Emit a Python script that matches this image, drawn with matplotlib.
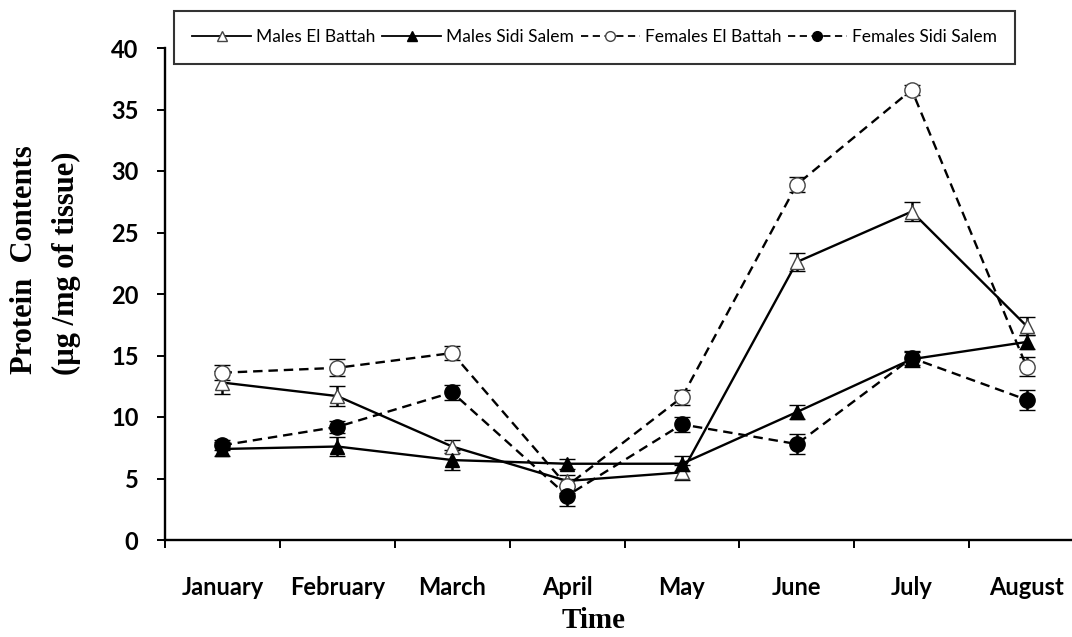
import matplotlib
matplotlib.use("Agg")
import matplotlib.pyplot as plt
from matplotlib.lines import Line2D
import numpy as np

# protein contents per month (ug/mg of tissue)
months = ["January", "February", "March", "April", "May", "June", "July", "August"]
males_el_battah = [12.8, 11.7, 7.6, 4.8, 5.5, 22.6, 26.7, 17.4]
males_sidi_salem = [7.4, 7.6, 6.5, 6.2, 6.2, 10.4, 14.7, 16.1]
females_el_battah = [13.6, 14.0, 15.2, 4.4, 11.6, 28.9, 36.6, 14.1]
females_sidi_salem = [7.7, 9.2, 12.0, 3.6, 9.4, 7.8, 14.8, 11.4]

err_males_el_battah = [0.9, 0.8, 0.5, 0.5, 0.6, 0.7, 0.8, 0.7]
err_males_sidi_salem = [0.6, 0.8, 0.8, 0.4, 0.6, 0.6, 0.6, 0.6]
err_females_el_battah = [0.6, 0.7, 0.6, 0.6, 0.6, 0.6, 0.4, 0.8]
err_females_sidi_salem = [0.4, 0.5, 0.6, 0.8, 0.6, 0.8, 0.6, 0.8]

labels = ["Males El Battah", "Males Sidi Salem", "Females El Battah", "Females Sidi Salem"]

sans = ["Lato", "DejaVu Sans"]
serif = ["Liberation Serif", "DejaVu Serif"]

fig = plt.figure(figsize=(10.72, 6.37), dpi=100)
ax = fig.add_axes([165 / 1072, 1 - 540 / 637, 919 / 1072, 492 / 637])

x = np.arange(1, len(months) + 1)
dash = (0, (4, 2.5))

series = [
    (males_el_battah, err_males_el_battah, "-", "^", "white"),
    (males_sidi_salem, err_males_sidi_salem, "-", "^", "black"),
    (females_el_battah, err_females_el_battah, dash, "o", "white"),
    (females_sidi_salem, err_females_sidi_salem, dash, "o", "black"),
]

handles = []
for (vals, errs, ls, mk, fc), lab in zip(series, labels):
    ms = 10 if mk == "^" else 11
    ec = "#444444" if fc == "white" else "black"
    ax.errorbar(x, vals, yerr=errs, color="black", ls=ls, lw=1.7,
                marker=mk, ms=ms, mfc=fc, mec=ec, mew=1.0,
                ecolor="black", elinewidth=1.8, capsize=6, capthick=2.6)
    handles.append(Line2D([], [], color="black", ls=ls, lw=1.3, marker=mk,
                          ms=7, mfc=fc, mec=ec, mew=1.0))

ax.set_xlim(0.5, 8.5)
ax.set_ylim(0, 40)
ax.set_yticks(range(0, 41, 5))
ax.set_xticks(x)
ax.set_xticklabels(months)
ax.set_xticks(np.arange(0.5, 8.5, 1), minor=True)

for side in ["top", "right"]:
    ax.spines[side].set_visible(False)
for side in ["left", "bottom"]:
    ax.spines[side].set_linewidth(1.7)

ax.tick_params(axis="x", which="major", length=0, pad=26)
ax.tick_params(axis="x", which="minor", length=6, width=1.4, direction="out")
ax.tick_params(axis="y", length=6, width=1.4, direction="out", pad=13)

for t in ax.get_xticklabels():
    t.set_fontfamily(sans)
    t.set_fontweight("bold")
    t.set_fontsize(17)
for t in ax.get_yticklabels():
    t.set_fontfamily(sans)
    t.set_fontweight("bold")
    t.set_fontsize(17)

fig.text(594 / 1072, 1 - 620 / 637, "Time", ha="center", va="center",
         family=serif, weight="bold", fontsize=21)
fig.text(25 / 1072, 1 - 260 / 637, "Protein  Contents", rotation=90,
         ha="center", va="center", family=serif, weight="bold", fontsize=22)
fig.text(66 / 1072, 1 - 263 / 637, "(\u00b5g /mg of tissue)", rotation=90,
         ha="center", va="center", family=serif, weight="bold", fontsize=22)

leg = fig.legend(handles, labels, loc="center", ncol=4, mode="expand",
                 bbox_to_anchor=(174 / 1072, 1 - 68 / 637, 841 / 1072, 61 / 637),
                 prop={"family": sans, "size": 12.5}, frameon=True, fancybox=False,
                 handlelength=3.4, handletextpad=0.3, columnspacing=1.0,
                 borderpad=1.05, borderaxespad=0)
leg.get_frame().set_edgecolor("black")
leg.get_frame().set_linewidth(1.5)

fig.savefig("out.png", dpi=100)
